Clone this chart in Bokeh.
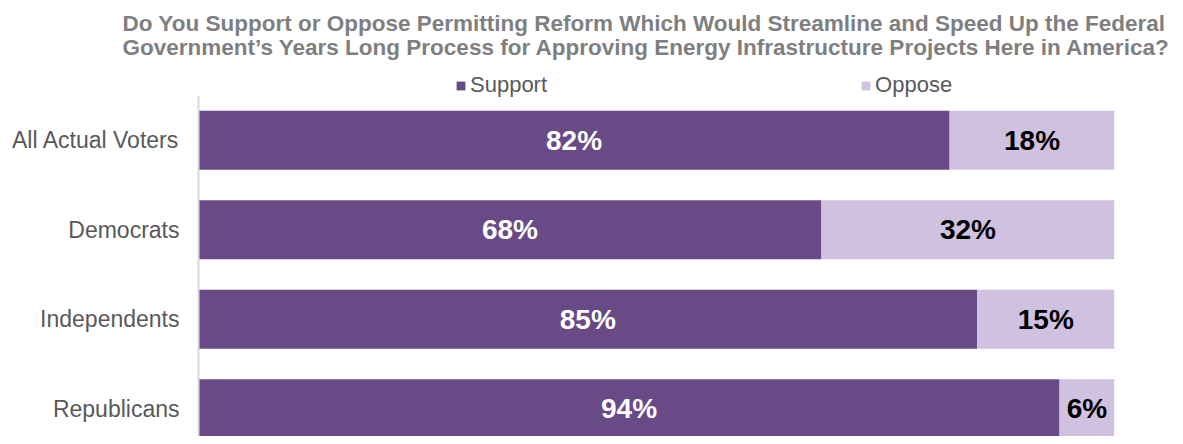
from bokeh.plotting import figure
from bokeh.models import Range1d, FixedTicker, Legend, LegendItem, ColumnDataSource
from bokeh.core.properties import value
from bokeh.embed import file_html
from bokeh.resources import INLINE

categories = ["All Actual Voters", "Democrats", "Independents", "Republicans"]
support = [82, 68, 85, 94]
oppose = [18, 32, 15, 6]
series_names = ["Support", "Oppose"]
title_lines = [
    "Do You Support or Oppose Permitting Reform Which Would Streamline and Speed Up the Federal",
    "Government\u2019s Years Long Process for Approving Energy Infrastructure Projects Here in America?",
]

SUPPORT_COLOR = "#674A86"
OPPOSE_COLOR = "#D1C1E0"
FONT = "Liberation Sans"

n = len(categories)
ys = [n - i - 0.5 for i in range(n)]
opp_right = [s + o for s, o in zip(support, oppose)]

src = ColumnDataSource(dict(
    y=ys,
    support=support,
    oppose=oppose,
    opp_right=opp_right,
    sup_mid=[s / 2 for s in support],
    opp_mid=[s + o / 2 for s, o in zip(support, oppose)],
    sup_lbl=[f"{s}%" for s in support],
    opp_lbl=[f"{o}%" for o in oppose],
))

p = figure(width=1175, height=436, output_backend="svg", toolbar_location=None,
           x_range=Range1d(0, 100), y_range=Range1d(0.19, 4.312),
           x_axis_location=None, min_border_left=198, min_border_right=61,
           min_border_top=66, min_border_bottom=0)
p.outline_line_color = None
p.xgrid.visible = False
p.ygrid.visible = False
p.background_fill_color = "white"
p.border_fill_color = "white"

p.title.text = "\n".join(title_lines)
p.title.align = "left"
p.title.offset = -76
p.title.text_font = FONT
p.title.text_font_size = "22.5px"
p.title.text_font_style = "bold"
p.title.text_color = "#7F7F7F"
p.title.text_line_height = 0.96
p.title.standoff = 16

r1 = p.hbar(y="y", left=0, right="support", height=0.66, source=src,
            fill_color=SUPPORT_COLOR, line_color=None)
r2 = p.hbar(y="y", left="support", right="opp_right", height=0.66, source=src,
            fill_color=OPPOSE_COLOR, line_color=None)

p.text(x="sup_mid", y="y", text="sup_lbl", source=src, text_align="center",
       text_baseline="middle", text_color="white", text_font_size="28px",
       text_font_style="bold", text_font=value(FONT))
p.text(x="opp_mid", y="y", text="opp_lbl", source=src, text_align="center",
       text_baseline="middle", text_color="black", text_font_size="28px",
       text_font_style="bold", text_font=value(FONT))

yax = p.yaxis[0]
yax.ticker = FixedTicker(ticks=ys)
yax.bounds = (0.19, 4.0)
yax.major_label_overrides = {y: c for y, c in zip(ys, categories)}
yax.major_tick_line_color = None
yax.minor_tick_line_color = None
yax.axis_line_color = "#D9D9D9"
yax.axis_line_width = 2
yax.major_label_text_font = FONT
yax.major_label_text_font_size = "23px"
yax.major_label_text_color = "#595959"
yax.major_label_standoff = 13

legend = Legend(items=[LegendItem(label=series_names[0], renderers=[r1]),
                       LegendItem(label=series_names[1], renderers=[r2])],
                orientation="horizontal", location=(257, 338),
                glyph_width=11, glyph_height=11, label_standoff=4,
                spacing=313, padding=0, margin=0,
                border_line_color=None, background_fill_alpha=0,
                label_text_font=FONT, label_text_font_size="22px",
                label_text_color="#595959")
p.add_layout(legend, "center")

open("out.html", "w").write(file_html(p, INLINE))
